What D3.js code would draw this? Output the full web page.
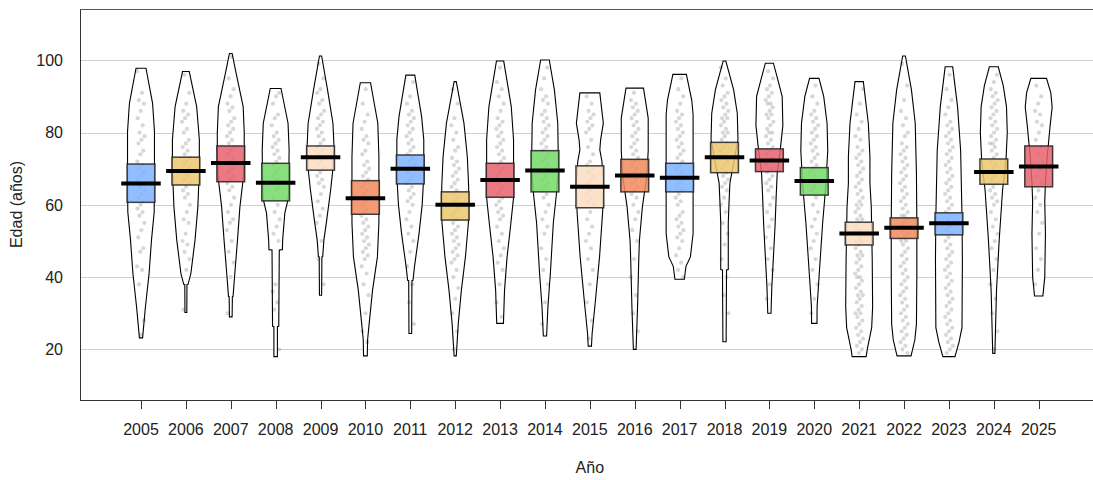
<!DOCTYPE html>
<html><head><meta charset="utf-8">
<script src="https://cdn.jsdelivr.net/npm/d3@7"></script>
<style>body{margin:0;background:#fff}svg{display:block}text{font-family:"Liberation Sans",Arial,sans-serif}</style>
</head><body><svg id="c" width="1093" height="480"></svg>
<script>
const years = ["2005","2006","2007","2008","2009","2010","2011","2012","2013","2014","2015","2016","2017","2018","2019","2020","2021","2022","2023","2024","2025"];
const means    = [65.9,69.4,71.6,66.1,73.2,61.8,70.0,60.0,66.9,69.5,65.0,68.1,67.5,73.2,72.3,66.6,52.1,53.7,54.9,69.1,70.6];
const bandLow  = [60.7,65.5,66.4,61.1,69.6,57.4,65.8,55.8,62.1,63.6,59.2,63.6,63.6,68.9,69.2,62.7,48.9,50.7,51.7,65.7,65.0];
const bandHigh = [71.3,73.2,76.3,71.5,76.3,66.7,73.8,63.6,71.5,75.0,70.8,72.6,71.5,77.3,75.5,70.3,55.2,56.4,57.8,72.7,76.3];
const yTicks = [20,40,60,80,100];
const bandColors = ["#7fb2ff","#ecc76e","#e8626e","#74d866","#fcdcc2","#f08a5c"];

// bean outlines: [edad, ancho relativo]
const bean2005=[[23.2,0.12],[24.5,0.15],[31.8,0.33],[41,0.6],[50.3,0.78],[58,0.98],[70,1],[80.3,1],[88.1,0.86],[97.8,0.37]];
const bean2006=[[30.2,0.07],[37.9,0.08],[38,0.16],[41,0.37],[50.3,0.68],[59.5,0.89],[70,1],[78,1],[87.2,0.8],[96.9,0.25]];
const bean2007=[[29,0.1],[34.6,0.12],[34.7,0.17],[41,0.3],[50.3,0.5],[59.5,0.68],[68,0.95],[75,1],[80,1],[87.2,0.92],[96.4,0.4],[101.9,0.1]];
const bean2008=[[18,0.13],[26.3,0.13],[26.4,0.23],[47.5,0.27],[47.6,0.5],[50.3,0.52],[57.7,0.68],[62,0.95],[75.2,1],[82.6,0.92],[92.2,0.4]];
const bean2009=[[35,0.08],[45.6,0.1],[45.7,0.16],[50.3,0.25],[55,0.43],[64.1,0.75],[70,0.92],[76.1,1],[82.6,0.92],[91.8,0.52],[101.2,0.08]];
const bean2010=[[18.2,0.14],[22.6,0.16],[27.2,0.28],[36.4,0.53],[45.6,0.89],[55,1],[73.3,1],[82.6,0.92],[93.8,0.38]];
const bean2011=[[24.4,0.1],[39,0.12],[39.1,0.2],[42.9,0.31],[52.1,0.65],[60,0.88],[68,1],[78,1],[84.4,0.84],[95.9,0.33]];
const bean2012=[[18.2,0.08],[27.2,0.23],[36.4,0.46],[45.6,0.76],[55,0.98],[65,1],[73.3,0.9],[82.6,0.65],[94.1,0.08]];
const bean2013=[[27.2,0.25],[36.4,0.33],[45.6,0.52],[54.9,0.8],[62,1],[78,1],[87.2,0.83],[99.8,0.27]];
const bean2014=[[23.7,0.12],[31.8,0.22],[41,0.4],[54.9,0.62],[63,0.85],[70,1],[82.6,0.95],[91.8,0.7],[100.1,0.32]];
const bean2015=[[20.9,0.12],[24.4,0.17],[31.8,0.37],[45.6,0.72],[58,0.95],[66,1],[72,0.9],[75.2,0.74],[78,0.8],[82.6,1],[91,0.74]];
const bean2016=[[20,0.1],[31.8,0.21],[45,0.3],[50.3,0.35],[59.5,0.57],[68,0.9],[75,1],[84,1],[92.3,0.65]];
const bean2017=[[39.4,0.35],[43,0.47],[45.6,0.8],[52,1],[85,1],[89,0.9],[96.1,0.5]];
const bean2018=[[22.1,0.12],[42,0.15],[42.1,0.28],[54.9,0.28],[60,0.33],[66,0.4],[72,0.7],[78,1],[85.3,0.95],[91.8,0.68],[99.8,0.1]];
const bean2019=[[30,0.12],[37.3,0.18],[45.6,0.3],[54.9,0.43],[62,0.5],[68.7,0.58],[75,0.8],[82,1],[90,0.95],[95,0.6],[99.2,0.3]];
const bean2020=[[27.2,0.2],[31.8,0.21],[41,0.37],[54.9,0.62],[65,0.85],[75,1],[82.6,0.95],[90,0.7],[95,0.35]];
const bean2021=[[18,0.52],[20,0.6],[26,0.93],[31.8,1],[45,0.97],[59.5,0.9],[66,0.8],[73.3,0.8],[82.6,0.68],[94.1,0.31]];
const bean2022=[[18.2,0.52],[22.6,0.8],[27,0.92],[40,0.95],[55,0.95],[68.7,0.92],[82.6,0.83],[91.8,0.55],[101.2,0.1]];
const bean2023=[[18,0.45],[22,0.75],[26,0.97],[45,1],[57,0.97],[75,0.87],[87.2,0.64],[98.2,0.28]];
const bean2024=[[18.9,0.08],[36.4,0.2],[50.3,0.4],[64.1,0.65],[72,0.9],[80,1],[87.2,0.94],[93,0.7],[98.2,0.33]];
const bean2025=[[34.8,0.31],[40,0.45],[52,0.5],[61,0.45],[66,0.5],[72,0.6],[78,0.75],[82,0.85],[87,1],[91,0.9],[95,0.58]];
const beans=[bean2005,bean2006,bean2007,bean2008,bean2009,bean2010,bean2011,bean2012,bean2013,bean2014,bean2015,bean2016,bean2017,bean2018,bean2019,bean2020,bean2021,bean2022,bean2023,bean2024,bean2025];

// observaciones (edades)
const ages2005=[97,91,89,88,86,84,82,80,79,78,77,75,74,72,71,70,69,68,67,66,65,64,63,62,61,60,59,58,57,55,53,51,48,47,43,42,38,28,24];
const ages2006=[96,91,88,86,85,84,83,81,80,78,77,76,75,74,73,72,71,70,69,69,68,67,66,65,64,63,62,60,58,56,55,52,50,49,47,45,42,31];
const ages2007=[101,95,92,90,88,87,86,84,83,82,81,80,79,78,77,76,75,74,73,72,71,70,69,68,67,66,65,64,62,60,58,56,55,53,50,47,44,40,30];
const ages2008=[91,90,88,85,84,82,80,79,78,77,76,75,74,73,72,71,70,69,68,67,66,65,64,62,60,58,56,54,52,50,38,36,33,31,20];
const ages2009=[99,95,92,91,89,88,86,85,84,83,82,81,80,79,78,77,76,75,74,73,72,71,70,69,68,67,66,65,63,61,59,57,55,50,45,38];
const ages2010=[92,88,85,83,81,79,78,77,75,74,72,71,70,69,68,67,66,65,64,63,62,61,60,59,58,57,56,55,54,53,52,51,50,49,48,47,46,45,43,41,38,35,30,25,22];
const ages2011=[94,90,88,86,85,84,83,82,81,80,79,78,77,76,75,74,73,72,71,70,69,68,67,66,65,64,63,62,61,60,58,56,54,52,50,47,43,38,33,27];
const ages2012=[92,88,84,82,80,78,76,75,73,72,71,70,69,68,67,66,65,64,63,62,61,60,59,58,57,56,55,54,53,52,51,50,49,48,47,46,45,44,42,40,37,34,30,25,20];
const ages2013=[98,94,92,90,88,86,84,83,82,81,80,79,78,77,76,75,74,73,72,71,70,69,68,67,66,65,64,63,62,61,60,59,58,57,56,54,52,50,48,46,44,42,38,33,29];
const ages2014=[98,95,92,90,89,88,86,85,84,83,82,81,80,79,78,77,76,75,74,73,72,71,70,69,68,67,66,65,64,63,62,60,58,56,54,52,48,45,42,38,33,27];
const ages2015=[90,88,86,85,84,83,82,81,80,78,76,74,72,71,70,69,68,67,66,65,64,63,62,61,60,58,56,54,52,50,48,45,42,38,33,28,23];
const ages2016=[91,89,88,87,86,85,84,83,82,81,80,79,78,77,76,75,74,73,72,71,70,69,68,67,66,65,64,63,62,60,58,56,53,50,45,40,35,30,25];
const ages2017=[95,92,90,88,86,85,84,83,82,81,80,79,78,77,76,75,74,73,72,71,70,69,68,67,66,65,64,63,62,61,60,58,57,56,55,54,53,52,51,50,48,46,44,42,40];
const ages2018=[98,95,93,91,90,89,88,87,86,85,84,84,83,82,81,80,80,79,78,77,76,75,74,73,72,71,70,69,68,67,66,65,64,62,60,58,55,52,49,45,40,35,30];
const ages2019=[97,95,93,92,91,90,89,88,88,87,86,85,85,84,83,82,81,80,80,79,78,77,76,75,74,73,72,71,70,69,68,67,66,65,64,62,60,58,56,54,51,48,45,42,38,34];
const ages2020=[93,90,88,86,85,84,83,82,81,80,79,78,77,76,75,74,73,72,71,70,69,68,67,66,65,64,62,60,58,56,54,52,50,48,45,42,38,34,30];
const ages2021=[92,88,85,83,81,79,78,76,75,74,73,72,71,70,69,68,67,66,65,64,63,62,61,60,60,59,58,57,56,56,55,54,53,53,52,51,50,50,49,48,47,46,46,45,44,43,42,41,40,40,39,38,37,36,35,35,34,33,32,31,30,30,29,28,27,26,25,24,23,22,21,20,19];
const ages2022=[99,93,89,86,84,82,80,79,77,76,75,74,73,72,71,70,69,68,67,66,65,64,63,62,61,60,59,58,57,57,56,55,54,54,53,52,51,50,50,49,48,47,46,45,44,43,42,41,40,39,38,37,36,35,34,33,32,31,30,29,28,27,26,25,24,23,22,21,20,19];
const ages2023=[96,92,89,87,85,83,82,81,80,79,78,77,76,75,74,73,72,71,70,69,68,67,66,65,64,63,62,61,60,59,58,57,56,55,54,53,52,51,50,49,48,47,46,45,44,43,42,41,40,39,38,37,36,35,34,33,32,31,30,29,28,27,26,25,24,23,22,21,20,19];
const ages2024=[96,94,92,91,90,89,88,87,86,85,84,83,82,81,80,79,78,77,77,76,75,74,73,72,71,70,69,68,67,66,65,64,63,62,61,60,58,56,54,52,50,48,45,42,38,34,30,25,20];
const ages2025=[93,90,88,86,85,83,82,80,78,76,74,72,70,68,66,64,62,60,58,55,52,48,45,42,38];
const ages=[ages2005,ages2006,ages2007,ages2008,ages2009,ages2010,ages2011,ages2012,ages2013,ages2014,ages2015,ages2016,ages2017,ages2018,ages2019,ages2020,ages2021,ages2022,ages2023,ages2024,ages2025];

const svg=d3.select("#c");
const W=1093,H=480;
const L=80,T=9,B=400;
const x=d3.scalePoint().domain(years).range([141,1038.7]);
const y=d3.scaleLinear().domain([6,114.2]).range([B,T]);
const step=x.step();
const wScale=d3.scaleLinear().domain([0,1]).range([0,0.3*step]);
const bandHalf=0.31*step, lineHalf=0.44*step;

// grid
svg.append("g").selectAll("line").data(yTicks).join("line")
  .attr("x1",L).attr("x2",W).attr("y1",d=>Math.round(y(d))+0.5).attr("y2",d=>Math.round(y(d))+0.5)
  .attr("stroke","#cfcfcf").attr("stroke-width",1);

// y axis labels
svg.append("g").selectAll("text").data(yTicks).join("text")
  .attr("x",63).attr("y",d=>y(d)).attr("dy","0.36em").attr("text-anchor","end")
  .attr("font-size",16).attr("fill","#222").text(d=>d);

// beans
const area=(cx)=>d3.area().y(d=>y(d[0])).x0(d=>cx-wScale(d[1])).x1(d=>cx+wScale(d[1]));
const g=svg.append("g");
years.forEach((yr,i)=>{
  const cx=x(yr);
  g.append("path").attr("d",area(cx)(beans[i])+"Z").attr("fill","#fff").attr("stroke","none");
});
// points
years.forEach((yr,i)=>{
  const cx=x(yr);
  g.append("g").selectAll("circle").data(ages[i]).join("circle")
    .attr("cx",(d,j)=>cx+(((j*0.618034+i*0.31)%1)-0.5)*8)
    .attr("cy",d=>y(d)).attr("r",2.1)
    .attr("fill","#7a7a7a").attr("fill-opacity",0.3);
});
// bean outlines
years.forEach((yr,i)=>{
  const cx=x(yr);
  g.append("path").attr("d",area(cx)(beans[i])+"Z").attr("fill","none").attr("stroke","#000").attr("stroke-width",1.1);
});
// inference bands
years.forEach((yr,i)=>{
  const cx=x(yr);
  g.append("rect").attr("x",cx-bandHalf).attr("width",2*bandHalf)
    .attr("y",y(bandHigh[i])).attr("height",y(bandLow[i])-y(bandHigh[i]))
    .attr("fill",bandColors[i%bandColors.length]).attr("fill-opacity",0.85)
    .attr("stroke","#222").attr("stroke-opacity",0.85).attr("stroke-width",1.5);
});
// means
years.forEach((yr,i)=>{
  const cx=x(yr);
  g.append("line").attr("x1",cx-lineHalf).attr("x2",cx+lineHalf)
    .attr("y1",y(means[i])).attr("y2",y(means[i]))
    .attr("stroke","#000").attr("stroke-width",4);
});

// frame
svg.append("line").attr("x1",L+0.5).attr("x2",L+0.5).attr("y1",T).attr("y2",B).attr("stroke","#333");
svg.append("line").attr("x1",L).attr("x2",W).attr("y1",T+0.5).attr("y2",T+0.5).attr("stroke","#555");
svg.append("line").attr("x1",L).attr("x2",W).attr("y1",B+0.5).attr("y2",B+0.5).attr("stroke","#333");

// x ticks and labels
const xa=svg.append("g");
xa.selectAll("line").data(years).join("line")
  .attr("x1",d=>Math.round(x(d))+0.5).attr("x2",d=>Math.round(x(d))+0.5).attr("y1",B).attr("y2",B+9).attr("stroke","#333");
xa.selectAll("text").data(years).join("text")
  .attr("x",d=>x(d)).attr("y",435).attr("text-anchor","middle").attr("font-size",16).attr("fill","#222").text(d=>d);

svg.append("text").attr("x",x("2015")).attr("y",473).attr("text-anchor","middle").attr("font-size",16).attr("fill","#222").text("Año");
svg.append("text").attr("transform",`translate(22,${(T+B)/2}) rotate(-90)`).attr("text-anchor","middle").attr("font-size",16).attr("fill","#222").text("Edad (años)");
</script></body></html>
